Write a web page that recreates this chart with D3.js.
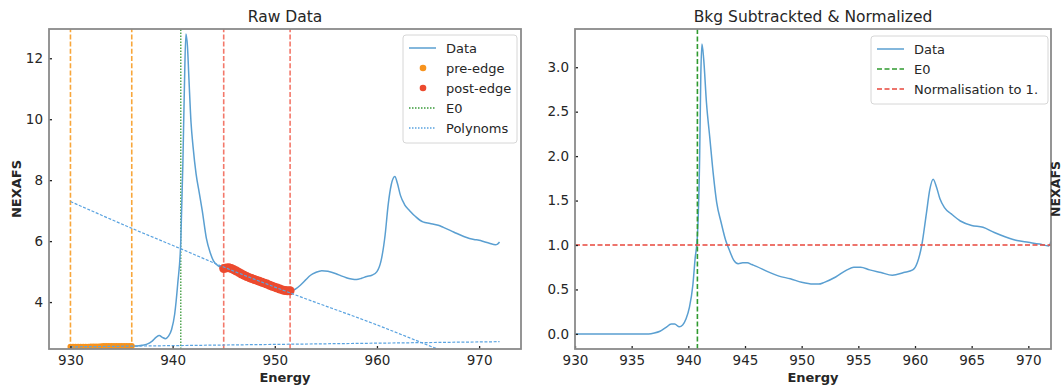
<!DOCTYPE html>
<html>
<head>
<meta charset="utf-8">
<script src="https://cdn.jsdelivr.net/npm/d3@7"></script>
<style>
  body { margin: 0; background: #fff; }
  text { font-family: "DejaVu Sans", sans-serif; fill: #262626; }
</style>
</head>
<body>
<div id="chart"></div>
<script>
// raw spectrum (left panel)
var rawEnergy = [
  930, 930.25, 930.5, 930.75, 931, 931.25, 931.5, 931.75, 932, 932.25, 932.5, 932.75,
  933, 933.25, 933.5, 933.75, 934, 934.25, 934.5, 934.75, 935, 935.25, 935.5, 935.75, 936,
  936.5, 937, 937.5, 938, 938.4, 938.7, 939, 939.3, 939.6, 939.9, 940.2, 940.5, 940.8,
  941, 941.15, 941.3, 941.45, 941.6, 941.8, 942, 942.3, 942.6, 942.9, 943.3, 943.7, 944, 944.5,
  945, 945.25, 945.5, 945.75, 946, 946.25, 946.5, 946.75, 947, 947.25, 947.5, 947.75,
  948, 948.25, 948.5, 948.75, 949, 949.25, 949.5, 949.75, 950, 950.25, 950.5, 950.75,
  951, 951.25, 951.5,
  952, 952.5, 953, 953.5, 954, 954.6, 955.2, 956, 956.5, 957, 957.5, 958, 958.5, 959, 959.5,
  960, 960.4, 960.8, 961.1, 961.4, 961.75, 962, 962.3, 962.7, 963.2, 963.8, 964.5, 965.2,
  966, 966.5, 967.5, 968.5, 969.5, 970, 970.5, 971, 971.6, 971.8, 972
];
var rawMu = [
  2.53, 2.53, 2.53, 2.53, 2.53, 2.53, 2.53, 2.53, 2.54, 2.54, 2.54, 2.54,
  2.55, 2.56, 2.56, 2.56, 2.56, 2.56, 2.56, 2.56, 2.56, 2.56, 2.56, 2.56, 2.56,
  2.56, 2.58, 2.62, 2.72, 2.85, 2.9, 2.84, 2.8, 2.88, 3.1, 3.6, 4.6, 6.0,
  8.5, 11.0, 12.8, 12.4, 11.3, 9.9, 9.1, 8.2, 7.6, 7.0, 6.1, 5.6, 5.35, 5.18,
  5.10, 5.12, 5.13, 5.10, 5.06, 5.02, 4.97, 4.92, 4.88, 4.84, 4.80, 4.77,
  4.74, 4.71, 4.68, 4.65, 4.62, 4.59, 4.55, 4.52, 4.49, 4.46, 4.43, 4.40,
  4.38, 4.37, 4.37,
  4.42, 4.55, 4.72, 4.88, 4.97, 5.03, 5.01, 4.93, 4.86, 4.80, 4.76, 4.74, 4.78, 4.84, 4.88,
  5.0, 5.35, 6.2, 7.2, 7.85, 8.12, 7.9, 7.5, 7.2, 7.0, 6.8, 6.63, 6.58,
  6.52, 6.45, 6.3, 6.15, 6.05, 6.03, 5.98, 5.93, 5.88, 5.9, 5.97
];

// fitted background polynoms
var preFitEnergy = [930, 972];
var preFitMu = [2.53, 2.70];
var postFitEnergy = [930, 936, 941, 945, 951.5, 960, 966, 972];
var postFitMu = [7.30, 6.42, 5.72, 5.15, 4.30, 3.25, 2.45, 1.65];

// fit ranges and edge
var preEdgeRange = [930, 936];
var postEdgeRange = [945, 951.5];
var e0 = 940.8;
var normLevel = 1;

// normalized spectrum (right panel)
var normEnergy = [
  930, 932, 934, 936, 936.5, 937, 937.5, 938, 938.5, 938.8, 939.2, 939.5, 939.8, 940.1,
  940.4, 940.6, 940.8, 941, 941.1, 941.2, 941.35, 941.6, 941.9, 942.2, 942.5, 942.9,
  943.3, 943.6, 944, 944.4, 944.8, 945.2, 945.6, 946, 947, 948, 949, 950, 951, 951.5,
  952, 953, 954, 954.6, 955.2, 956, 957, 958, 959, 959.8, 960.2, 960.6, 961, 961.3,
  961.6, 961.9, 962.2, 962.6, 963.2, 964, 965, 966, 967, 968, 969, 970, 971, 971.8, 972
];
var normMu = [
  0.0, 0.0, 0.0, 0.0, 0.0, 0.01, 0.03, 0.07, 0.11, 0.11, 0.08, 0.1, 0.17, 0.3,
  0.55, 0.85, 1.1, 2.0, 2.9, 3.26, 3.1, 2.6, 2.2, 1.8, 1.48, 1.25,
  1.05, 0.95, 0.83, 0.79, 0.8, 0.8, 0.78, 0.76, 0.7, 0.65, 0.62, 0.58, 0.56, 0.56,
  0.58, 0.64, 0.72, 0.75, 0.75, 0.72, 0.69, 0.66, 0.69, 0.72, 0.8, 1.0, 1.35, 1.62,
  1.74, 1.65, 1.52, 1.42, 1.35, 1.27, 1.22, 1.2, 1.14, 1.09, 1.05, 1.03, 1.01, 0.99, 1.04
];

var leftXTicks = [930, 940, 950, 960, 970];
var leftYTicks = [4, 6, 8, 10, 12];
var rightXTicks = [930, 935, 940, 945, 950, 955, 960, 965, 970];
var rightYTicks = [0, 0.5, 1, 1.5, 2, 2.5, 3];

var W = 1063, H = 386;
var blue = "#5a9fd1", orange = "#f7931e", red = "#ec4a2e", green = "#3a9a3a";

var svg = d3.select("#chart").append("svg")
    .attr("width", W)
    .attr("height", H);

function zip(xs, ys) {
  return xs.map(function (x, i) { return [x, ys[i]]; });
}

function panel(opts) {
  var x = d3.scaleLinear().domain(opts.xDomain).range([opts.left, opts.right]);
  var y = d3.scaleLinear().domain(opts.yDomain).range([opts.bottom, opts.top]);
  var g = svg.append("g");

  g.append("clipPath").attr("id", opts.id)
    .append("rect")
    .attr("x", opts.left).attr("y", opts.top)
    .attr("width", opts.right - opts.left).attr("height", opts.bottom - opts.top);

  var plot = g.append("g").attr("clip-path", "url(#" + opts.id + ")");

  // axes with inward ticks
  var xa = g.append("g")
      .attr("transform", "translate(0," + opts.bottom + ")")
      .call(d3.axisBottom(x).tickValues(opts.xTicks).tickSizeInner(-3).tickSizeOuter(0).tickPadding(6));
  var ya = g.append("g")
      .attr("transform", "translate(" + opts.left + ",0)")
      .call(d3.axisLeft(y).tickValues(opts.yTicks).tickFormat(opts.yFormat).tickSizeInner(-3).tickSizeOuter(0).tickPadding(6));
  [xa, ya].forEach(function (a) {
    a.select(".domain").remove();
    a.selectAll(".tick line").attr("stroke", "#222").attr("stroke-width", 1.3);
    a.selectAll("text").style("font-size", "13.5px").attr("fill", "#262626");
  });

  // frame
  g.append("rect")
    .attr("x", opts.left).attr("y", opts.top)
    .attr("width", opts.right - opts.left).attr("height", opts.bottom - opts.top)
    .attr("fill", "none").attr("stroke", "#8a8a8a").attr("stroke-width", 1.8);

  g.append("text")
    .attr("x", (opts.left + opts.right) / 2).attr("y", 22)
    .attr("text-anchor", "middle")
    .style("font-size", "15.5px")
    .text(opts.title);

  g.append("text")
    .attr("x", (opts.left + opts.right) / 2).attr("y", 382)
    .attr("text-anchor", "middle")
    .style("font-size", "13px").style("font-weight", "bold")
    .text("Energy");

  return { x: x, y: y, plot: plot, g: g };
}

var lineGen = function (p) {
  return d3.line().x(function (d) { return p.x(d[0]); }).y(function (d) { return p.y(d[1]); });
};

// ---------- left panel ----------
var L = panel({
  id: "clipL", left: 49, right: 521, top: 29, bottom: 349,
  xDomain: [927.9, 974.1], yDomain: [2.46, 12.96],
  xTicks: leftXTicks, yTicks: leftYTicks, yFormat: d3.format("d"),
  title: "Raw Data"
});

function vline(p, xv, color, dash, w) {
  p.plot.append("line")
    .attr("x1", p.x(xv)).attr("x2", p.x(xv))
    .attr("y1", p.y.range()[0]).attr("y2", p.y.range()[1])
    .attr("stroke", color).attr("stroke-width", w).attr("stroke-dasharray", dash);
}

preEdgeRange.forEach(function (v) { vline(L, v, "#f8a63a", "5,2.2", 1.6); });
postEdgeRange.forEach(function (v) { vline(L, v, "#f3786a", "5,2.2", 1.6); });
vline(L, e0, green, "1.5,1.5", 1.3);

L.plot.append("path")
  .datum(zip(rawEnergy, rawMu))
  .attr("d", lineGen(L).curve(d3.curveMonotoneX))
  .attr("fill", "none").attr("stroke", blue).attr("stroke-width", 1.5);

var rawPts = zip(rawEnergy, rawMu);
L.plot.selectAll(".pre").data(rawPts.filter(function (d) { return d[0] >= preEdgeRange[0] && d[0] <= preEdgeRange[1]; }))
  .enter().append("circle")
  .attr("cx", function (d) { return L.x(d[0]); })
  .attr("cy", function (d) { return L.y(d[1]); })
  .attr("r", 3).attr("fill", orange);
L.plot.selectAll(".post").data(rawPts.filter(function (d) { return d[0] >= postEdgeRange[0] && d[0] <= postEdgeRange[1]; }))
  .enter().append("circle")
  .attr("cx", function (d) { return L.x(d[0]); })
  .attr("cy", function (d) { return L.y(d[1]); })
  .attr("r", 4.5).attr("fill", red);

L.plot.append("path")
  .datum(zip(preFitEnergy, preFitMu))
  .attr("d", lineGen(L))
  .attr("fill", "none").attr("stroke", "#5aa3e0").attr("stroke-width", 1.2).attr("stroke-dasharray", "3,1.6");
L.plot.append("path")
  .datum(zip(postFitEnergy, postFitMu))
  .attr("d", lineGen(L).curve(d3.curveMonotoneX))
  .attr("fill", "none").attr("stroke", "#5aa3e0").attr("stroke-width", 1.2).attr("stroke-dasharray", "3,1.6");

L.g.append("text")
  .attr("transform", "translate(21,189) rotate(-90)")
  .attr("text-anchor", "middle")
  .style("font-size", "13px").style("font-weight", "bold")
  .text("NEXAFS");

// ---------- right panel ----------
var R = panel({
  id: "clipR", left: 575, right: 1051, top: 29, bottom: 349,
  xDomain: [930, 972], yDomain: [-0.17, 3.43],
  xTicks: rightXTicks, yTicks: rightYTicks, yFormat: d3.format(".1f"),
  title: "Bkg Subtrackted & Normalized"
});

R.plot.append("path")
  .datum(zip(normEnergy, normMu))
  .attr("d", lineGen(R).curve(d3.curveMonotoneX))
  .attr("fill", "none").attr("stroke", blue).attr("stroke-width", 1.5);

vline(R, e0, "#2f9a2f", "5,2.5", 1.6);
R.plot.append("line")
  .attr("x1", R.x.range()[0]).attr("x2", R.x.range()[1])
  .attr("y1", R.y(normLevel)).attr("y2", R.y(normLevel))
  .attr("stroke", "#e8473c").attr("stroke-width", 1.6).attr("stroke-dasharray", "5,2.5");

R.g.append("text")
  .attr("transform", "translate(1060,189) rotate(-90)")
  .attr("text-anchor", "middle")
  .style("font-size", "12.5px").style("font-weight", "bold")
  .text("NEXAFS");

// ---------- legends ----------
function legend(x0, y0, w, items) {
  var lg = svg.append("g");
  lg.append("rect")
    .attr("x", x0).attr("y", y0).attr("width", w).attr("height", items.length * 20 + 8)
    .attr("rx", 3).attr("fill", "#fff").attr("fill-opacity", 0.85)
    .attr("stroke", "#d6d6d6").attr("stroke-width", 1);
  items.forEach(function (it, i) {
    var cy = y0 + 13 + i * 20;
    if (it.dot) {
      lg.append("circle").attr("cx", x0 + 20).attr("cy", cy).attr("r", 3.3).attr("fill", it.color);
    } else {
      lg.append("line")
        .attr("x1", x0 + 6).attr("x2", x0 + 33).attr("y1", cy).attr("y2", cy)
        .attr("stroke", it.color).attr("stroke-width", it.w || 1.5)
        .attr("stroke-dasharray", it.dash || null);
    }
    lg.append("text")
      .attr("x", x0 + 43).attr("y", cy + 4.5)
      .style("font-size", "13px")
      .text(it.label);
  });
}

legend(403, 35, 114, [
  { label: "Data", color: blue },
  { label: "pre-edge", color: orange, dot: true },
  { label: "post-edge", color: red, dot: true },
  { label: "E0", color: green, dash: "1.5,1.5", w: 1.3 },
  { label: "Polynoms", color: "#5aa3e0", dash: "1.5,1.5", w: 1.3 }
]);

legend(871, 36, 177, [
  { label: "Data", color: blue },
  { label: "E0", color: "#2f9a2f", dash: "5,2.5", w: 1.6 },
  { label: "Normalisation to 1.", color: "#e8473c", dash: "5,2.5", w: 1.6 }
]);
</script>
</body>
</html>
